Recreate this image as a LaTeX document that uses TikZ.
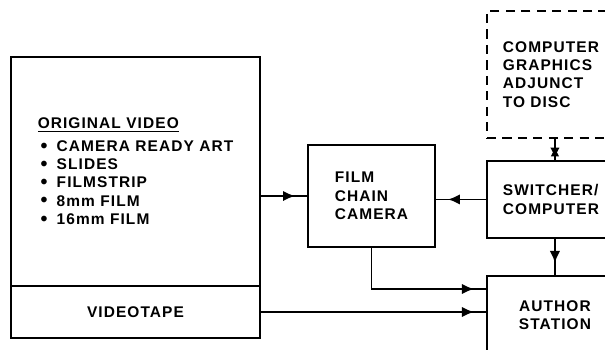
\documentclass[tikz,border=0pt]{standalone}
\usepackage{fontspec}
\setmainfont{Liberation Sans}[LetterSpace=7]
\usepackage{tikz}
\usetikzlibrary{arrows.meta,positioning,decorations.markings}
\newcommand{\vitem}[1]{\makebox[13.5pt][l]{\hspace{2pt}\raisebox{-0.6pt}{\fontsize{14}{14}\selectfont\textbullet}}#1}

\begin{document}
\begin{tikzpicture}[
  x=0.025cm,y=-0.025cm,
  font=\bfseries\fontsize{11}{13}\selectfont,
  line width=1.3pt,
  block/.style={draw,align=left,inner sep=0pt},
  sidebox/.style={draw,anchor=north west,text width=2.6cm,inner xsep=0.4cm,inner ysep=0pt},
  arr/.style={postaction={decorate},decoration={markings,mark=at position -0.3cm with {\arrow{Latex[length=3mm,width=2.6mm]}}}},
  twoway/.style={postaction={decorate},decoration={markings,
      mark=at position 0.2cm with {\arrowreversed{Latex[length=2.4mm,width=2.2mm]}},
      mark=at position -0.05cm with {\arrow{Latex[length=2.6mm,width=2.4mm]}}}}
]
\clip (0,0) rectangle (605,349);
\node[block,minimum width=6.225cm,minimum height=5.725cm] (orig) at (135.5,171.5)
  {\fontsize{11}{12.4}\selectfont\underline{ORIGINAL VIDEO}\\[3pt]
   \vitem{CAMERA READY ART}\\ \vitem{SLIDES}\\ \vitem{FILMSTRIP}\\
   \vitem{8mm FILM}\\ \vitem{16mm FILM}};
\node[block,minimum width=6.225cm,minimum height=1.3cm,align=center] (tape) at (135.5,312) {VIDEOTAPE};
\node[block,minimum width=3.175cm,minimum height=2.55cm] (film) at (371.5,196) {FILM\\CHAIN\\CAMERA};
\node[sidebox,align=left,minimum height=3.175cm,dash pattern=on 6.5pt off 4.5pt] (gfx) at (486,10)
  {COMPUTER\\GRAPHICS\\ADJUNCT\\TO DISC};
\node[sidebox,align=left,minimum height=1.925cm] (switch) at (486,160) {SWITCHER/\\COMPUTER};
\node[sidebox,align=center,minimum height=1.95cm] (author) at (486,275) {AUTHOR\\STATION};
\draw[arr] (orig.east |- film.west) -- (film.west);
\draw[arr] (switch.west) -- (switch.west -| film.east);
\draw[twoway] (gfx.south) -- (switch.north);
\draw[arr] (switch.south) -- (author.north);
\draw[arr] (film.south) |- ([yshift=-0.35cm]author.north west);
\draw[arr] (tape.east) -- (tape.east -| author.west);
\end{tikzpicture}
\end{document}
